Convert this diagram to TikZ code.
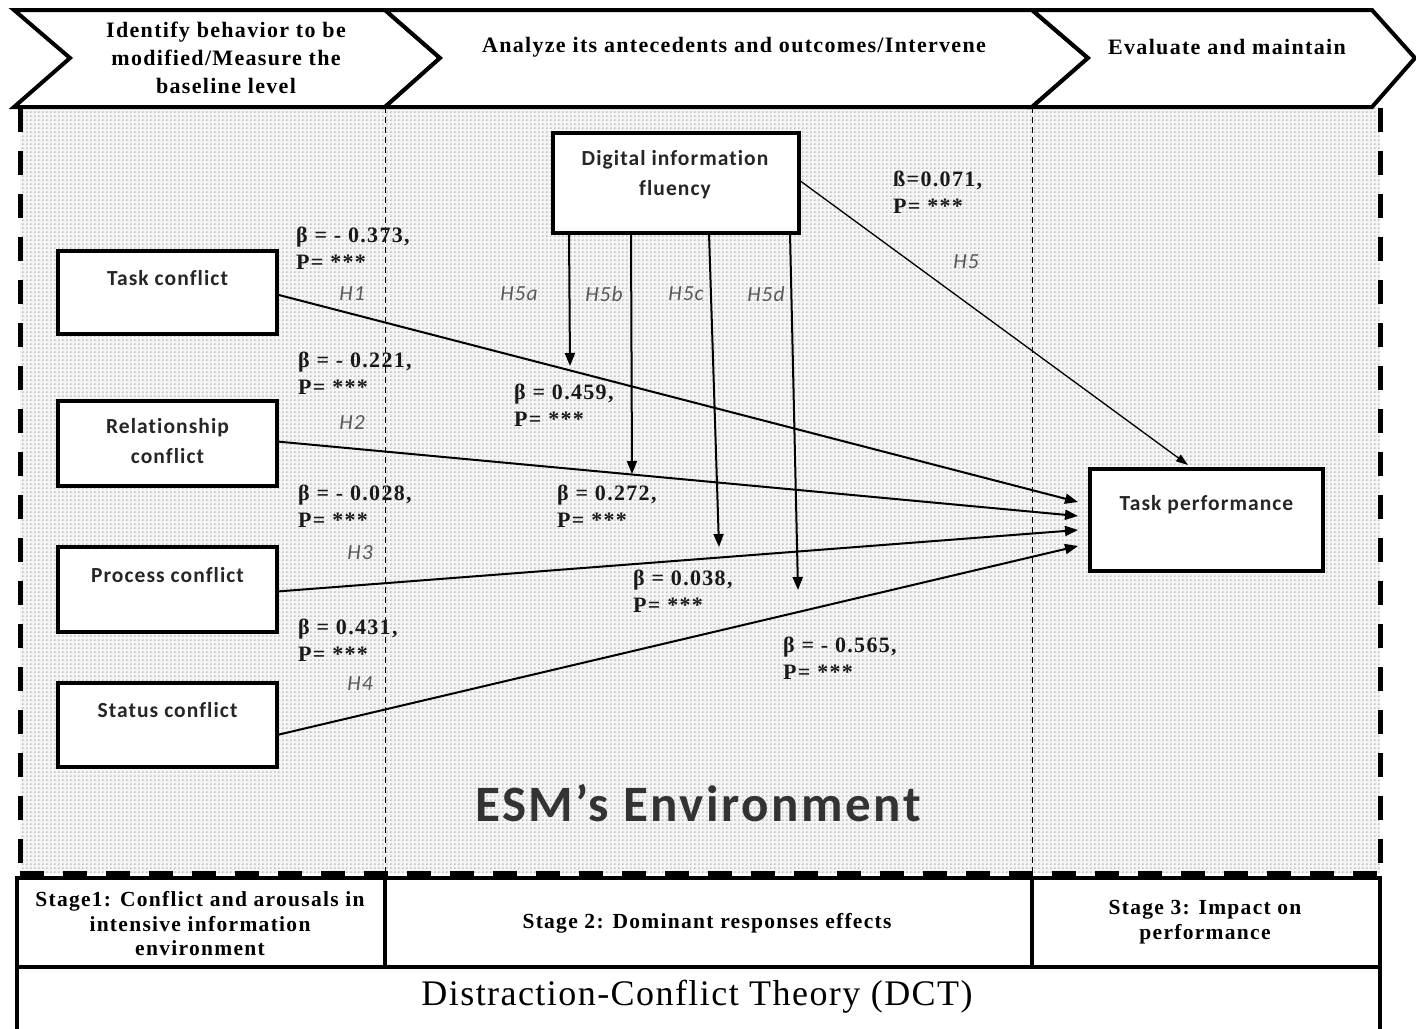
\documentclass[tikz,border=0pt]{standalone}
\usepackage{fontspec}
\setmainfont{Liberation Serif}
\newfontfamily\wideserif[LetterSpace=6]{Liberation Serif}
\newfontfamily\calib[LetterSpace=5,Ligatures=NoCommon]{Carlito}
\newfontfamily\dctserif[LetterSpace=4]{Liberation Serif}
\usetikzlibrary{arrows.meta,patterns.meta}

% fine dot screen for the environment area
\tikzdeclarepattern{
  name=esmdots,
  type=uncolored,
  bounding box={(0,0) and (4.4pt,4.4pt)},
  tile size={(4.4pt,4.4pt)},
  code={\pgfpathcircle{\pgfpoint{2.2pt}{2.2pt}}{0.85pt}\pgfusepath{fill}}
}

\tikzset{
  chev/.style={draw=black, line width=4pt, fill=white, line join=miter},
  headtxt/.style={font=\wideserif\bfseries\fontsize{22}{28}\selectfont, align=center, inner sep=0pt},
  stagebox/.style={draw=black, line width=4pt, fill=white},
  stagetxt/.style={font=\wideserif\bfseries\fontsize{21.5}{24.5}\selectfont, align=center, inner sep=0pt},
  varbox/.style={draw=black, line width=3.5pt, fill=white, outer sep=0pt, inner sep=0pt},
  vartxt/.style={font=\calib\bfseries\fontsize{21.5}{30}\selectfont, text=black!85, align=center, inner sep=0pt},
  coef/.style={font=\wideserif\bfseries\fontsize{22}{27}\selectfont, align=left, anchor=west, inner sep=0pt, text=black!90},
  hyp/.style={font=\calib\itshape\fontsize{21.5}{24}\selectfont, text=black!65, inner sep=0pt},
  path/.style={line width=2pt, -{Triangle[length=13pt,width=10pt]}},
  thinpath/.style={line width=1.3pt, -{Triangle[length=12pt,width=8pt]}},
  border/.style={line width=5pt, dash pattern=on 24pt off 19pt},
  divider/.style={line width=0.9pt, dash pattern=on 6pt off 4pt}
}

\begin{document}
\begin{tikzpicture}[x=1pt, y=-1pt]
\useasboundingbox (0,0) rectangle (1416,1028);

% dotted environment area
\fill[black!4] (20,107) rectangle (1380,873);
\fill[pattern=esmdots, pattern color=black!50] (20,107) rectangle (1380,873);

% stage dividers through the environment
\draw[divider] (385,107) -- (385,873);
\draw[divider] (1032,107) -- (1032,873);

% dashed outer borders
\draw[border] (20,108) -- (20,873);
\draw[border] (1380,108) -- (1380,873);
\draw[border] (20,873) -- (1380,873);

% process chevrons
\draw[chev] (14,10) -- (385,10) -- (440,58) -- (385,107) -- (14,107) -- (70,58) -- cycle;
\draw[chev] (385,10) -- (1032,10) -- (1088,58) -- (1032,107) -- (385,107) -- (440,58) -- cycle;
\draw[chev] (1032,10) -- (1372,10) -- (1415,58) -- (1372,107) -- (1032,107) -- (1088,58) -- cycle;
\node[headtxt] (h1) at (226,58) {Identify behavior to be\\modified/Measure the\\baseline level};
\node[headtxt] (h2) at (734,47) {Analyze its antecedents and outcomes/Intervene};
\node[headtxt] (h3) at (1227,47) {Evaluate and maintain};

% stage row and theory band
\draw[stagebox] (17,878) rectangle (385,967);
\draw[stagebox] (385,878) rectangle (1032,967);
\draw[stagebox] (1032,878) rectangle (1380,967);
\draw[stagebox] (17,967) rectangle (1380,1040);
\node[stagetxt] (s1) at (200,924) {Stage1: Conflict and arousals in\\intensive information\\environment};
\node[stagetxt] (s2) at (707,923) {Stage 2: Dominant responses effects};
\node[stagetxt] (s3) at (1205,922) {Stage 3: Impact on\\performance};
\node[font=\dctserif\fontsize{36}{40}\selectfont, inner sep=0pt] (dct) at (697,997) {Distraction-Conflict Theory (DCT)};

% environment caption
\node[font=\calib\bfseries\fontsize{51}{56}\selectfont, text=black!80, inner sep=0pt] (esm) at (698,803) {ESM’s Environment};

% variables
\node[varbox, minimum width=219pt, minimum height=83pt] (task) at (167.5,292.5) {};
\node[varbox, minimum width=219pt, minimum height=85pt] (rel) at (167.5,443.5) {};
\node[varbox, minimum width=219pt, minimum height=85pt] (proc) at (167.5,589.5) {};
\node[varbox, minimum width=219pt, minimum height=84pt] (stat) at (167.5,725) {};
\node[varbox, minimum width=246pt, minimum height=100pt] (dif) at (676,183) {};
\node[varbox, minimum width=233pt, minimum height=102pt] (perf) at (1206.5,520) {};

\node[vartxt] (task-t) at (167.5,278) {Task conflict};
\node[vartxt] (rel-t) at (167.5,441) {Relationship\\conflict};
\node[vartxt] (proc-t) at (167.5,575) {Process conflict};
\node[vartxt] (stat-t) at (167.5,710) {Status conflict};
\node[vartxt] (dif-t) at (675,175) {Digital information\\fluency};
\node[vartxt] (perf-t) at (1206.5,505) {Task performance};

% arrow targets
\coordinate (in1) at (1078,502);
\coordinate (in2) at (1078,516);
\coordinate (in3) at (1078,530);
\coordinate (in4) at (1078,546);
\coordinate (m1) at (570,366);
\coordinate (m2) at (632,474);
\coordinate (m3) at (719,547);
\coordinate (m4) at (798,590);
\coordinate (top5) at (1188,465);

% direct effects H1-H4
\draw[path] ([yshift=-2pt]task.east) -- (in1);
\draw[path] ([yshift=2pt]rel.east) -- (in2);
\draw[path] ([yshift=-2pt]proc.east) -- (in3);
\draw[path] ([yshift=-10pt]stat.east) -- (in4);

% moderating effects H5a-H5d
\draw[path] ([xshift=-107pt]dif.south) -- (m1);
\draw[path] ([xshift=-45pt]dif.south) -- (m2);
\draw[path] ([xshift=33pt]dif.south) -- (m3);
\draw[path] ([xshift=114pt]dif.south) -- (m4);

% direct effect H5
\draw[thinpath] ([yshift=3pt]dif.east) -- (top5);

% coefficients
\node[coef] (c1) at (296,248) {β = - 0.373,\\P= ***};
\node[coef] (c2) at (298,373) {β = - 0.221,\\P= ***};
\node[coef] (c3) at (298,506) {β = - 0.028,\\P= ***};
\node[coef] (c4) at (298,640) {β = 0.431,\\P= ***};
\node[coef] (c5) at (514,405) {β = 0.459,\\P= ***};
\node[coef] (c6) at (557,506) {β = 0.272,\\P= ***};
\node[coef] (c7) at (633,591) {β = 0.038,\\P= ***};
\node[coef] (c8) at (783,658) {β = - 0.565,\\P= ***};
\node[coef] (c9) at (893,192) {ß=0.071,\\P= ***};

% hypothesis labels
\node[hyp] (H1) at (352,294) {H1};
\node[hyp] (H2) at (352,423) {H2};
\node[hyp] (H3) at (360,553) {H3};
\node[hyp] (H4) at (360,684) {H4};
\node[hyp] (H5) at (966,262) {H5};
\node[hyp] (H5a) at (519,294) {H5a};
\node[hyp] (H5b) at (604,294) {H5b};
\node[hyp] (H5c) at (686,294) {H5c};
\node[hyp] (H5d) at (766,294) {H5d};
\end{tikzpicture}
\end{document}
